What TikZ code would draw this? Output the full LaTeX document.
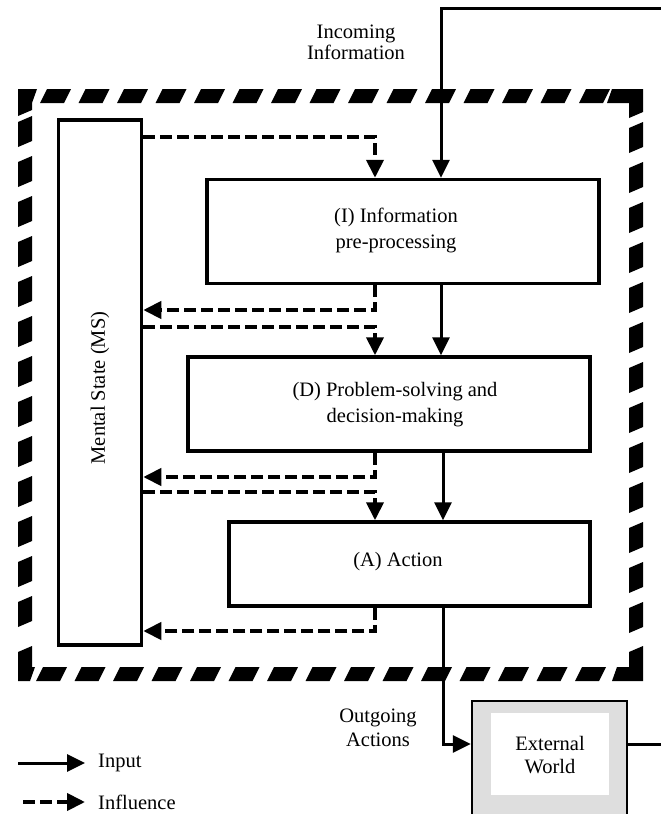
\documentclass[tikz,border=0pt]{standalone}
\usepackage{fontspec}
\setmainfont{Liberation Serif}
\usetikzlibrary{arrows.meta}
\begin{document}
\begin{tikzpicture}[x=1pt,y=-1pt,
  box/.style={draw,line width=3.5pt,inner sep=0pt},
  txt/.style={align=center,inner sep=0pt,font=\fontsize{20.5}{26}\selectfont},
  inp/.style={line width=3pt,-{Triangle[length=18pt,width=17pt]}},
  infl/.style={line width=4pt,dash pattern=on 12pt off 5pt,-{Triangle[length=18pt,width=17pt]}},
]
\useasboundingbox (0,0) rectangle (661,814);
% outer slanted-dash frame
\begin{scope}[fill=black]
\foreach \x in {40,78.5,...,600} \fill (\x,103) -- ++(24,0) -- ++(7,-14) -- ++(-24,0) -- cycle;
\foreach \x in {36,74.5,...,600} \fill (\x,681) -- ++(24,0) -- ++(7,-14) -- ++(-24,0) -- cycle;
\foreach \y in {122,162,...,640} \fill (18,\y) -- ++(0,25) -- ++(14,-6) -- ++(0,-25) -- cycle;
\foreach \y in {128,168,...,630} \fill (629,\y) -- ++(0,25) -- ++(14,-6) -- ++(0,-25) -- cycle;
\fill (18,89) -- (37,89) -- (32,103) -- (32,110) -- (18,116) -- cycle;
\fill (612,89) -- (643,89) -- (643,112) -- (629,118) -- (629,103) -- (607,103) -- cycle;
\fill (18,652) -- (32,646) -- (32,667) -- (35,667) -- (30,681) -- (18,681) -- cycle;
\fill (629,652) -- (643,646) -- (643,681) -- (612,681) -- (617,667) -- (629,667) -- cycle;
\end{scope}
% boxes
\node[box,minimum width=83pt,minimum height=525pt] (MS) at (100,382.5) {};
\node[txt,rotate=90] (MSt) at (100,388) {Mental State (MS)};
\node[box,minimum width=392pt,minimum height=104pt] (I) at (403,231.5) {};
\node[txt] (It) at (396,230) {(I) Information\\pre-processing};
\node[box,minimum width=402pt,minimum height=94pt] (D) at (389,404) {};
\node[txt] (Dt) at (395,405) {(D) Problem-solving and\\decision-making};
\node[box,minimum width=361pt,minimum height=84pt] (A) at (409.5,564) {};
\node[txt] (At) at (398,562) {(A) Action};
% external world
\node[draw,line width=2.5pt,fill=black!13,minimum width=155pt,minimum height=129pt,inner sep=0pt] (ext) at (549.5,765.5) {};
\fill[white] (491,713) rectangle (609,795);
\node[txt,font=\fontsize{20.5}{23}\selectfont] (extt) at (550,755) {External\\World};
% labels
\node[txt,font=\fontsize{20.5}{21}\selectfont] (inc) at (356,42) {Incoming\\Information};
\node[txt,font=\fontsize{20.5}{24}\selectfont] (out) at (378,728) {Outgoing\\Actions};
% helper coordinates
\coordinate (xa) at (375,0);
\coordinate (xb) at (441,0);
\coordinate (xc) at (443,0);
\coordinate (y1) at (0,137);
\coordinate (y2) at (0,310);
\coordinate (y3) at (0,327);
\coordinate (y4) at (0,477);
\coordinate (y5) at (0,492);
\coordinate (y6) at (0,631);
\coordinate (y7) at (0,744);
\coordinate (inR) at (661,8);
\coordinate (outR) at (661,744);
% incoming
\draw[inp] (inR) -| (xb |- I.north);
% influences
\draw[infl] (MS.east |- y1) -| (xa |- I.north);
\draw[infl] (xa |- I.south) |- (MS.east |- y2);
\draw[infl] (MS.east |- y3) -| (xa |- D.north);
\draw[infl] (xa |- D.south) |- (MS.east |- y4);
\draw[infl] (MS.east |- y5) -| (xa |- A.north);
\draw[infl] (xa |- A.south) |- (MS.east |- y6);
% inputs
\draw[inp] (xb |- I.south) -- (xb |- D.north);
\draw[inp] (xc |- D.south) -- (xc |- A.north);
\draw[inp] (xc |- A.south) |- (ext.west |- y7);
\draw[line width=3pt] (outR -| ext.east) -- (outR);
% legend
\coordinate (l1s) at (18,763);
\coordinate (l1e) at (85,763);
\coordinate (l2s) at (23,802);
\coordinate (l2e) at (85,802);
\draw[inp] (l1s) -- (l1e);
\draw[infl] (l2s) -- (l2e);
\node[txt,anchor=west] (l1t) at (98,763) {Input};
\node[txt,anchor=west] (l2t) at (98,802) {Influence};
\end{tikzpicture}
\end{document}
